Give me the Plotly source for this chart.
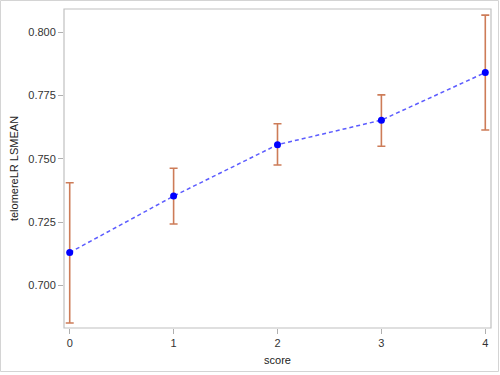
import plotly.graph_objects as go

scores = [0, 1, 2, 3, 4]
lsmean = [0.7130, 0.7353, 0.7556, 0.7653, 0.7841]
upper = [0.7406, 0.7463, 0.7639, 0.7753, 0.8068]
lower = [0.6852, 0.7243, 0.7476, 0.7550, 0.7614]
y_ticks = [0.700, 0.725, 0.750, 0.775, 0.800]
x_ticks = [0, 1, 2, 3, 4]

err_plus = [u - m for u, m in zip(upper, lsmean)]
err_minus = [m - l for m, l in zip(lsmean, lower)]

W, H = 500, 375
ml, mr, mt, mb = 64, 9, 9, 47
pw = W - ml - mr
ph = H - mt - mb

fig = go.Figure()
fig.add_trace(go.Scatter(
    x=scores, y=lsmean, mode="lines+markers",
    line=dict(color="#5c5cff", width=1.5, dash="4px,3px"),
    marker=dict(color="#0000ff", size=7),
    error_y=dict(type="data", array=err_plus, arrayminus=err_minus,
                 color="#cd7c58", thickness=1.6, width=4),
    showlegend=False,
))

# outer light border of the image
fig.add_shape(type="rect", xref="paper", yref="paper",
              x0=(0.5 - ml) / pw, x1=(498.5 - ml) / pw,
              y0=(H - mb - 371.5) / ph, y1=(H - mb - 0.5) / ph,
              line=dict(color="#d4d4d4", width=1), layer="below")
# plot frame
fig.add_shape(type="rect", xref="paper", yref="paper", x0=0, x1=1, y0=0, y1=1,
              line=dict(color="#c0c0c0", width=1.2))

fig.update_layout(
    width=W, height=H,
    margin=dict(l=ml, r=mr, t=mt, b=mb),
    paper_bgcolor="white", plot_bgcolor="white",
    font=dict(family="Liberation Sans, Arial, sans-serif", size=11, color="#333333"),
    xaxis=dict(range=[-0.055, 4.055], tickvals=x_ticks, ticktext=[str(v) for v in x_ticks],
               showgrid=False, zeroline=False, showline=False,
               ticks="outside", ticklen=5, tickcolor="#b0b0b0", tickwidth=1,
               title=dict(text="score", font=dict(size=11, color="#222222"), standoff=8)),
    yaxis=dict(range=[0.6832, 0.8092], tickvals=y_ticks, ticktext=[f"{v:.3f}" for v in y_ticks],
               showgrid=False, zeroline=False, showline=False,
               ticks="outside", ticklen=5, tickcolor="#b0b0b0", tickwidth=1,
               title=dict(text="telomereLR LSMEAN", font=dict(size=11, color="#222222"), standoff=7)),
)

fig.write_html("out.html", config={"displayModeBar": False},
               post_script="document.body.style.margin='0';")
